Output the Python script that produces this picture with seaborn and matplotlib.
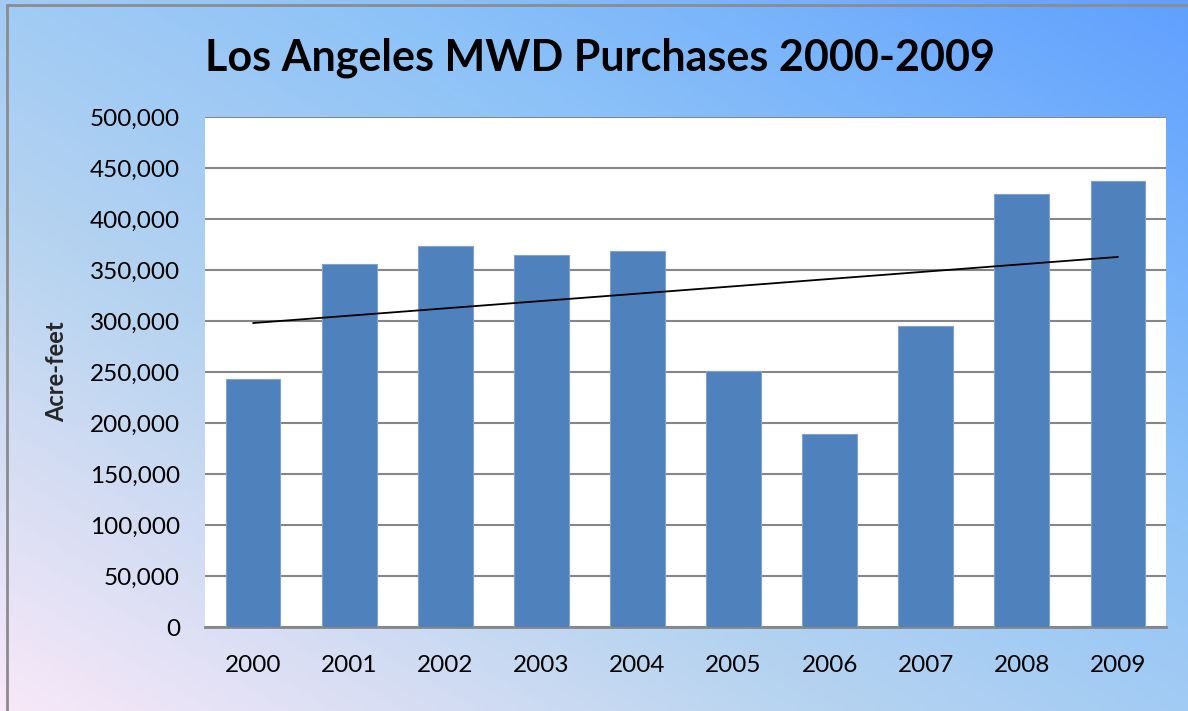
import numpy as np
import pandas as pd
import matplotlib
matplotlib.use("Agg")
import matplotlib.pyplot as plt
from matplotlib.colors import LinearSegmentedColormap
from matplotlib.ticker import FuncFormatter
import seaborn as sns

# data (acre-feet)
years = ['2000', '2001', '2002', '2003', '2004', '2005', '2006', '2007', '2008', '2009']
purchases = [243000, 356000, 374000, 365000, 369000, 251000, 189000, 295000, 425000, 437000]

df = pd.DataFrame({'year': years, 'af': purchases})

sns.set_theme(style='white')
plt.rcParams['font.family'] = ['Lato', 'DejaVu Sans']

fig = plt.figure(figsize=(11.88, 7.11), dpi=100)

# gradient background (pink bottom-left -> blue top-right)
bg = fig.add_axes([0, 0, 1, 1], zorder=0)
nx, ny = 300, 200
gx, gy = np.meshgrid(np.linspace(0, 1, nx), np.linspace(1, 0, ny))
grad = (gx + gy) / 2
cmap = LinearSegmentedColormap.from_list('bgc', ['#f8e8f8', '#b8d4f0', '#8cc2f8', '#60a0ff'])
bg.imshow(grad, cmap=cmap, aspect='auto', extent=[0, 1, 0, 1], origin='upper')
bg.plot([7 / 1188, 7 / 1188], [0, 1 - 5 / 711], color='#8c8c8c', lw=2)
bg.plot([7 / 1188, 1], [1 - 5 / 711, 1 - 5 / 711], color='#8c8c8c', lw=2)
bg.set_xlim(0, 1)
bg.set_ylim(0, 1)
bg.axis('off')

ax = fig.add_axes([205 / 1188, 1 - 627 / 711, (1166 - 205) / 1188, (627 - 117) / 711], zorder=1)
ax.set_facecolor('white')

sns.barplot(data=df, x='year', y='af', color='#4f81bd', saturation=1, width=0.57,
            edgecolor='#7fa3d1', linewidth=0.8, ax=ax, zorder=3)

# linear trendline
xi = np.arange(len(years))
k, b = np.polyfit(xi, purchases, 1)
ax.plot(xi, k * xi + b, color='black', lw=1.3, zorder=4)

ax.set_ylim(0, 500000)
ax.set_xlim(-0.5, len(years) - 0.5)
ax.set_yticks(np.arange(0, 500001, 50000))
ax.yaxis.set_major_formatter(FuncFormatter(lambda v, p: f'{int(v):,}'))
ax.grid(axis='y', color='#868686', lw=1.5, zorder=0)
ax.set_axisbelow(True)
for s in ['top', 'right', 'left']:
    ax.spines[s].set_visible(False)
ax.spines['bottom'].set_color('#868686')
ax.spines['bottom'].set_linewidth(2)
ax.tick_params(axis='y', labelsize=17.5, pad=18, length=0)
ax.tick_params(axis='x', labelsize=17.5, pad=20, length=0)
for lab in ax.get_xticklabels() + ax.get_yticklabels():
    lab.set_color('black')
ax.set_xlabel('')
ax.set_ylabel('Acre-feet', fontsize=17, fontweight='bold', labelpad=16)

fig.text(0.505, 1 - 58 / 711, 'Los Angeles MWD Purchases 2000-2009', ha='center', va='center',
         fontsize=31, fontweight='bold', color='black')

plt.savefig('out.png', dpi=100)
